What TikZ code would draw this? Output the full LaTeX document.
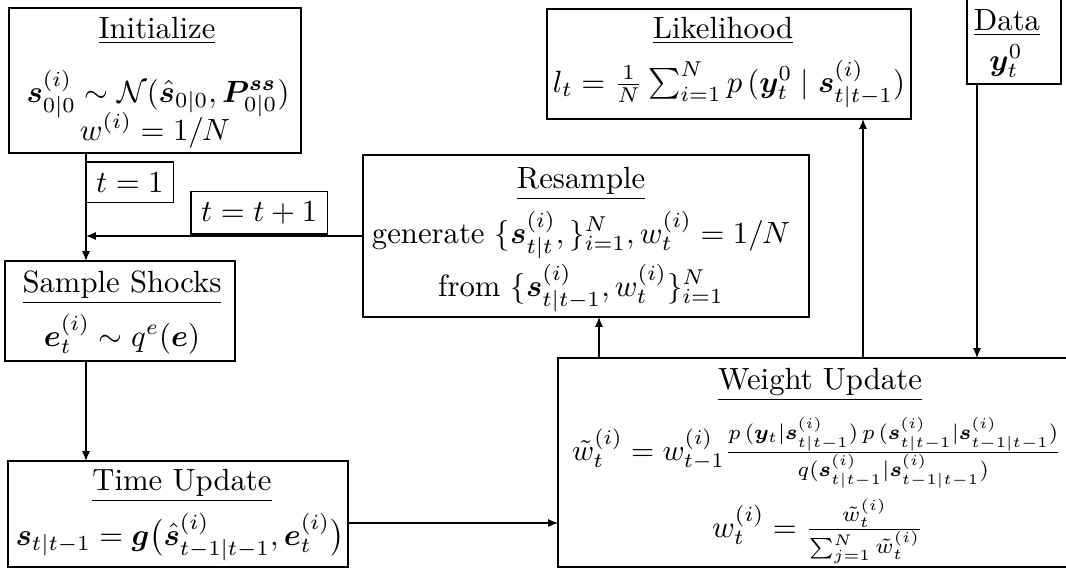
\documentclass[tikz,border=0pt]{standalone}
\usepackage{amsmath}
\usepackage{bm}
\usepackage{graphicx}
\DeclareMathSizes{10}{10}{6.667}{5}
\usetikzlibrary{arrows.meta}
\newdimen\pxu
\pxu=0.3257pt
\tikzset{
  box/.style={draw, inner sep=0pt, outer sep=0pt},
  ln/.style={anchor=base, inner sep=0pt, outer sep=0pt},
  tag/.style={draw, inner sep=0.3333em, outer sep=0pt},
  arr/.style={-{Latex[length=3.2pt,width=2.6pt]}},
}
\begin{document}
\begin{tikzpicture}[x=0.3257pt, y=-0.3257pt]
\useasboundingbox (0,0) rectangle (1066,571);
\clip (0,0) rectangle (1066,571);
% boxes
\node[box, minimum width=292\pxu, minimum height=145\pxu] (init) at (155,80.5) {};
\node[box, minimum width=230\pxu, minimum height=100\pxu] (ss) at (120,311) {};
\node[box, minimum width=340\pxu, minimum height=106\pxu] (tu) at (178,514) {};
\node[box, minimum width=446\pxu, minimum height=162\pxu] (res) at (586,236) {};
\node[box, minimum width=364\pxu, minimum height=110\pxu] (lik) at (729,64) {};
\node[box, minimum width=94\pxu, minimum height=94\pxu] (data) at (1014,37) {};
\node[box, minimum width=532\pxu, minimum height=209\pxu] (wu) at (824,462.5) {};
% texts
\node[ln] (init-t) at (157,38) {\underline{Initialize}};
\node[ln] (init-a) at (158,102) {$\bm{s}_{0|0}^{(i)} \sim \mathcal{N}(\hat{\bm{s}}_{0|0}, \bm{P}_{0|0}^{\bm{ss}})$};
\node[ln] (init-b) at (155,140) {$w^{(i)} = 1/N$};
\node[ln] (ss-t) at (122,292) {\underline{Sample Shocks}};
\node[ln] (ss-a) at (122,346) {$\bm{e}_t^{(i)} \sim q^e(\bm{e})$};
\node[ln] (tu-t) at (182,490) {\underline{Time Update}};
\node[ln] (tu-a) at (180,545) {$\bm{s}_{t|t-1} = \bm{g}\bigl(\hat{\bm{s}}_{t-1|t-1}^{(i)}, \bm{e}_t^{(i)}\bigr)$};
\node[ln] (res-t) at (581,188) {\underline{Resample}};
\node[ln] (res-a) at (581,243) {generate $\{\bm{s}^{(i)}_{t|t},\}_{i=1}^N, w_t^{(i)} = 1/N$};
\node[ln] (res-b) at (581,296) {from $\{\bm{s}^{(i)}_{t|t-1}, w_t^{(i)}\}_{i=1}^N$};
\node[ln] (lik-t) at (723,38) {\underline{Likelihood}};
\node[ln] (lik-a) at (729,92) {$l_t = \frac{1}{N}\sum_{i=1}^{N} p\,(\bm{y}_t^0 \mid \bm{s}^{(i)}_{t|t-1})$};
\node[ln] (data-t) at (1007,30) {\underline{Data}};
\node[ln] (data-a) at (1006,70) {$\bm{y}_t^0$};
\node[ln] (wu-t) at (820,389) {\underline{Weight Update}};
\node[ln] (wu-a) at (817,460) {\scalebox{0.97}{$\tilde{w}_t^{(i)} = w_{t-1}^{(i)} \frac{p\,(\bm{y}_t \mid \bm{s}^{(i)}_{t|t-1})\, p\,(\bm{s}^{(i)}_{t|t-1} \mid \bm{s}^{(i)}_{t-1|t-1})}{q(\bm{s}^{(i)}_{t|t-1} \mid \bm{s}^{(i)}_{t-1|t-1})}$}};
\node[ln] (wu-b) at (818,537) {$w_t^{(i)} = \frac{\tilde{w}_t^{(i)}}{\sum_{j=1}^N \tilde{w}_t^{(i)}}$};
% labels
\node[tag, anchor=north west] (t1) at (86,162) {$t=1$};
\node[tag, anchor=south west] (tt) at (191,234) {$t=t+1$};
% helper coordinates
\coordinate (x86) at (86,0);
\coordinate (x599) at (599,0);
\coordinate (x863) at (863,0);
\coordinate (x977) at (977,0);
\coordinate (y523) at (0,523);
\coordinate (merge) at (res.west -| x86);
% connectors
\draw[arr] (init.south -| x86) -- (ss.north -| x86);
\draw[arr] (res.west) -- (merge);
\draw[arr] (ss.south -| x86) -- (tu.north -| x86);
\draw[arr] (tu.east |- y523) -- (wu.west |- y523);
\draw[arr] (wu.north -| x599) -- (res.south -| x599);
\draw[arr] (wu.north -| x863) -- (lik.south -| x863);
\draw[arr] (data.south -| x977) -- (wu.north -| x977);
\end{tikzpicture}
\end{document}
